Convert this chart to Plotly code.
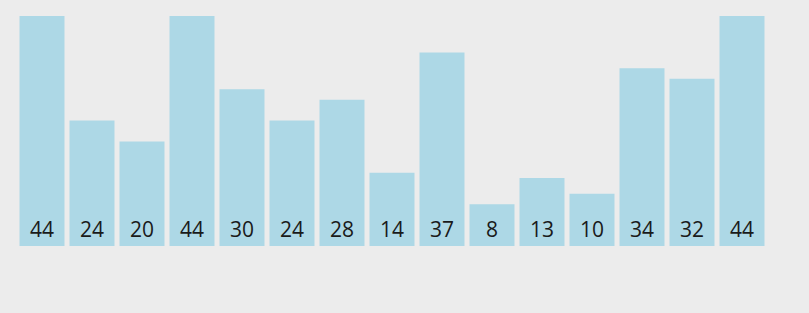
import plotly.graph_objects as go

categories = list(range(15))
values = [44, 24, 20, 44, 30, 24, 28, 14, 37, 8, 13, 10, 34, 32, 44]
labels = [str(v) for v in values]

fig = go.Figure(go.Bar(
    x=categories,
    y=values,
    text=labels,
    textposition="inside",
    insidetextanchor="start",
    textangle=0,
    textfont=dict(family="Open Sans", size=21, color="#1a1a1a"),
    marker=dict(color="#add8e6", line=dict(width=0)),
    hoverinfo="skip",
))

fig.update_layout(
    width=809, height=313,
    margin=dict(l=17, r=42, t=16, b=67, pad=0),
    paper_bgcolor="#ececec",
    plot_bgcolor="#ececec",
    bargap=0.1,
    showlegend=False,
    xaxis=dict(range=[-0.5, 14.5], visible=False, fixedrange=True),
    yaxis=dict(range=[0, 44], visible=False, fixedrange=True),
)

fig.write_html("out.html", config={"displayModeBar": False})
